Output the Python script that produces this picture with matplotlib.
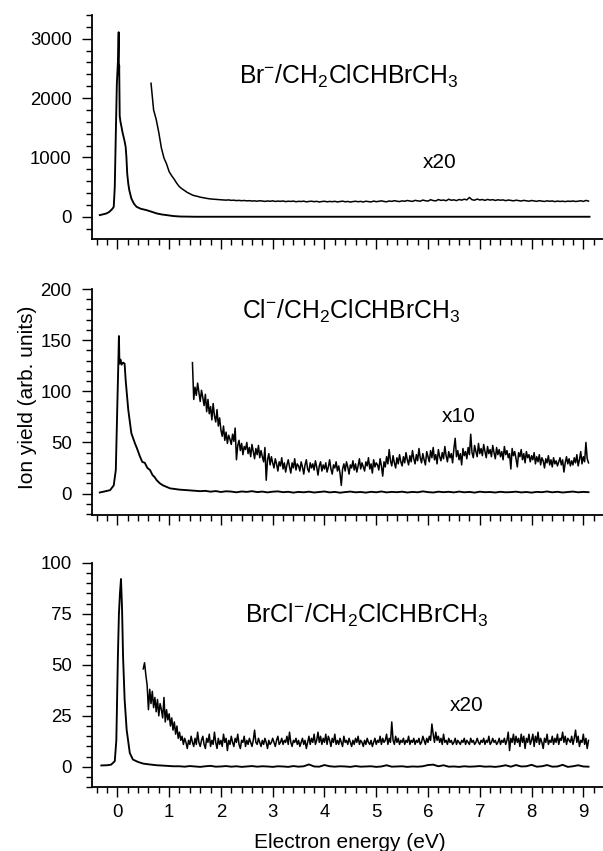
import numpy as np
import matplotlib
matplotlib.use("Agg")
import matplotlib.pyplot as plt
from matplotlib.ticker import MultipleLocator

plt.rcParams['font.family'] = ['Liberation Sans', 'DejaVu Sans']
plt.rcParams['mathtext.fontset'] = 'custom'
plt.rcParams['mathtext.rm'] = 'Liberation Sans'
plt.rcParams['mathtext.it'] = 'Liberation Sans'
plt.rcParams['mathtext.default'] = 'regular'

# ---------------- data ----------------
# Panel 1: Br-
br_x = [-0.34, -0.28, -0.21, -0.16, -0.12, -0.09, -0.07, -0.05, -0.03, -0.01, 0.015, 0.025, 0.03,
        0.035, 0.045, 0.06, 0.08, 0.10, 0.12, 0.14, 0.16, 0.175, 0.19, 0.21, 0.23, 0.27, 0.32,
        0.37, 0.45, 0.56, 0.66, 0.76, 0.86, 0.95, 1.08, 1.21, 1.5, 2.5, 4.0, 6.0, 8.0, 9.12]
br_y = [28, 40, 56, 80, 112, 140, 168, 505, 1400, 2240, 2690, 3110, 2400,
        2550, 1700, 1600, 1513, 1420, 1345, 1270, 1177, 1000, 729, 560, 448, 308, 220,
        168, 135, 112, 85, 56, 38, 28, 12, 4, 0, 0, 0, 0, 0, 0]

br20_start, br20_end = 0.65, 9.10
br20_y = [2250, 1800, 1640, 1420, 1160, 990, 890, 760,
          690, 630, 560, 505, 470, 440, 410, 388,
          366, 352, 343, 330, 322, 315, 306, 300,
          297, 293, 289, 286, 283, 280, 284, 276,
          279, 272, 276, 270, 274, 268, 271, 265,
          268, 262, 270, 264, 259, 266, 261, 268, 258, 264,
          260, 266, 255, 262, 258, 264, 253, 260, 257, 263,
          251, 258, 262, 254, 260, 249, 257, 261, 252, 258,
          254, 260, 250, 257, 263, 252, 258, 248, 256, 261,
          253, 259, 249, 262, 255, 250, 264, 254, 260, 268,
          258, 252, 266, 259, 271, 262, 256, 268, 261, 274,
          265, 259, 276, 268, 262, 281, 270, 264, 287, 273,
          267, 290, 276, 282, 270, 295, 278, 285, 272, 291,
          280, 296, 284, 325, 287, 279, 298, 283, 290, 276,
          292, 281, 288, 275, 286, 279, 284, 271, 282, 276,
          268, 279, 272, 265, 276, 269, 262, 274, 266, 260,
          271, 263, 258, 268, 261, 266, 255, 264, 258, 262,
          255, 263, 259, 266, 257, 262, 270, 258, 275, 264]

# Panel 2: Cl-
cl_x = [-0.34, -0.25, -0.14, -0.07, -0.03, 0.00, 0.017, 0.03, 0.04, 0.06, 0.08, 0.11, 0.14,
        0.16, 0.21, 0.27, 0.34, 0.38, 0.43, 0.48, 0.53, 0.58, 0.63, 0.68, 0.72, 0.76, 0.82,
        0.88, 0.95, 1.02, 1.10, 1.20, 1.34, 1.47, 1.60]
cl_y = [1, 2, 3.3, 8, 23, 88, 124, 154, 127, 131, 126, 128, 127,
        111, 82, 59, 49, 44, 37, 31, 30, 25, 23, 18, 16, 13, 10,
        8, 6.5, 5, 4.5, 3.8, 3.3, 2.8, 2.3]
cl_tail_start, cl_tail_end = 1.7, 9.1
cl_tail_y = [2.6, 1.8, 2.4, 1.5, 2.2, 1.9, 1.2, 2.0, 1.6, 2.3,
             1.4, 1.9, 1.1, 1.8, 2.1, 1.3, 1.7, 0.9, 1.6, 1.2,
             1.8, 1.0, 1.5, 2.0, 1.1, 1.6, 0.8, 1.4, 1.9, 1.2,
             1.5, 0.9, 1.7, 1.2, 2.0, 1.1, 1.6, 1.3, 1.8, 1.0,
             1.6, 1.2, 2.1, 1.4, 1.0, 1.8, 1.3, 1.7, 1.1, 1.9,
             1.2, 1.6, 0.9, 1.8, 1.3, 1.5, 1.0, 1.7, 1.2, 1.4,
             1.8, 1.1, 1.5, 0.9, 1.6, 1.3, 2.0, 1.2, 1.7, 1.0,
             1.5, 1.9, 1.2, 1.6, 1.3]

cl10_start, cl10_end = 1.45, 9.10
cl10_y = [128, 92, 104, 96, 108, 99, 90, 101, 94, 86, 97,
          80, 92, 78, 85, 72, 88, 76, 70, 82, 66, 74,
          62, 56, 66, 52, 60, 49, 57, 53, 48, 58, 51,
          64, 33, 47, 52, 42, 49, 38, 46, 43, 50,
          39, 45, 36, 48, 41, 34, 44, 38, 47, 35,
          42, 36, 31, 45, 13, 33, 39, 28, 36, 30,
          25, 34, 29, 22, 31, 27, 35, 24, 30, 21,
          28, 33, 26, 20, 30, 25, 34, 23, 29, 27,
          22, 31, 26, 19, 28, 33, 24, 21, 30, 25,
          29, 23, 32, 26, 18, 27, 31, 22, 28, 24,
          30, 21, 26, 33, 24, 19, 28, 25, 31, 22,
          27, 20, 8, 24, 29, 22, 31, 26, 19, 28,
          25, 32, 23, 29, 21, 27, 34, 24, 30, 26,
          22, 31, 27, 35, 24, 29, 20, 33, 26, 30,
          28, 23, 34, 27, 17, 31, 26, 36, 29, 43,
          32, 27, 37, 30, 25, 35, 29, 38, 31, 27,
          36, 30, 40, 33, 28, 37, 31, 42, 34, 29,
          38, 32, 44, 35, 30, 39, 33, 28, 41, 36,
          31, 42, 35, 45, 33, 38, 29, 43, 36, 32,
          40, 34, 46, 37, 31, 41, 35, 39, 30, 44,
          54, 36, 42, 33, 39, 28, 44, 37, 41, 34,
          45, 38, 58, 40, 35, 47, 41, 36, 49, 39,
          44, 37, 48, 41, 35, 46, 39, 43, 36, 47,
          40, 34, 45, 38, 43, 36, 41, 33, 46, 38,
          42, 35, 39, 24, 44, 37, 41, 34, 26, 40,
          36, 43, 33, 39, 30, 41, 35, 38, 31, 37,
          33, 40, 29, 36, 31, 38, 28, 35, 32, 25,
          34, 30, 37, 28, 33, 26, 35, 29, 32, 27,
          31, 35, 28, 33, 21, 30, 36, 29, 34, 27,
          32, 28, 35, 30, 38, 27, 33, 41, 29, 36,
          31, 50, 34, 30]

# Panel 3: BrCl-
brcl_x = [-0.31, -0.20, -0.12, -0.05, -0.02, 0.01, 0.03, 0.05, 0.07, 0.09, 0.11, 0.14, 0.18,
          0.24, 0.30, 0.40, 0.50, 0.62, 0.76, 0.90, 1.08]
brcl_y = [0.7, 0.8, 1.1, 2.8, 13, 54, 75, 85, 92, 78, 54, 33, 18,
          6.8, 3.6, 2.4, 1.6, 1.2, 0.8, 0.6, 0.3]
brcl_tail_start, brcl_tail_end = 1.2, 9.1
brcl_tail_y = [0.3, 0.1, 0.4, 0.2, 0.0, 0.3, 0.5, 0.1, 0.2, 0.4,
               0.1, 0.3, 0.0, 0.2, 0.4, 0.1, 0.3, 0.2, 0.0, 0.3,
               0.2, 0.0, 0.4, 0.1, 0.3, 1.2, 0.2, 0.1, 0.9, 0.3,
               0.1, 0.3, 0.2, 0.0, 0.4, 0.1, 0.2, 0.3, 0.0, 0.2,
               0.8, 0.1, 0.2, 0.3, 0.0, 0.2, 0.1, 0.3, 0.9, 1.1,
               0.3, 0.8, 0.1, 0.2, 0.0, 0.3, 0.1, 0.2, 0.4, 0.1,
               0.2, 0.0, 0.3, 0.8, 0.1, 0.9, 0.2, 0.3, 1.0, 0.1,
               0.3, 0.9, 0.1, 0.2, 1.0, 0.0, 0.3, 0.8, 0.2, 0.1]

brcl20_start, brcl20_end = 0.50, 9.10
brcl20_y = [48, 51, 45, 40, 28, 38, 31, 37, 29, 34,
            27, 33, 25, 31, 28, 24, 34, 22, 28, 23,
            26, 20, 24, 18, 22, 16, 20, 14, 17, 13,
            15, 11, 14, 12, 9, 13, 11, 15, 12, 10,
            14, 11, 17, 12, 10, 13, 15, 11, 9, 14,
            12, 16, 10, 13, 11, 17, 12, 9, 14, 11,
            13, 10, 16, 12, 14, 8, 13, 11, 15, 12,
            10, 14, 12, 16, 11, 9, 13, 12, 15, 10,
            13, 11, 14, 12, 10, 13, 18, 12, 11, 14,
            12, 10, 13, 11, 14, 12, 9, 13, 11, 12,
            14, 12, 10, 13, 15, 11, 12, 14, 11, 13,
            12, 15, 11, 17, 12, 10, 13, 12, 14, 11,
            13, 10, 12, 14, 11, 13, 9, 12, 15, 11,
            14, 12, 16, 11, 13, 17, 12, 15, 11, 14,
            12, 16, 11, 15, 13, 10, 14, 12, 16, 11,
            13, 11, 14, 12, 10, 15, 12, 13, 11, 14,
            12, 10, 13, 11, 14, 12, 15, 11, 13, 12,
            10, 13, 11, 14, 12, 11, 13, 10, 12, 14,
            11, 13, 12, 15, 11, 14, 12, 13, 16, 11,
            14, 12, 22, 13, 11, 15, 12, 14, 11, 13,
            12, 14, 11, 13, 12, 15, 11, 13, 12, 14,
            11, 13, 12, 14, 11, 12, 15, 13, 11, 14,
            12, 15, 13, 21, 16, 12, 17, 13, 15, 12,
            14, 11, 16, 12, 13, 11, 14, 12, 13, 11,
            12, 14, 11, 13, 12, 11, 13, 12, 14, 11,
            13, 12, 11, 14, 12, 13, 11, 12, 14, 12,
            11, 13, 12, 14, 11, 13, 12, 15, 11, 12,
            14, 12, 13, 11, 12, 14, 11, 13, 12, 14,
            11, 13, 17, 8, 14, 12, 16, 11, 15, 12,
            14, 10, 16, 12, 15, 9, 14, 12, 16, 11,
            13, 16, 10, 15, 12, 17, 11, 14, 12, 9,
            14, 12, 16, 11, 13, 12, 15, 11, 14, 12,
            16, 11, 14, 13, 17, 12, 15, 11, 14, 13,
            12, 15, 11, 14, 18, 12, 15, 10, 13, 12,
            16, 11, 14, 9, 13]

labels = [r'Br$^{-}$/CH$_2$ClCHBrCH$_3$',
          r'Cl$^{-}$/CH$_2$ClCHBrCH$_3$',
          r'BrCl$^{-}$/CH$_2$ClCHBrCH$_3$']
factors = ['x20', 'x10', 'x20']

# ---------------- figure ----------------
W, H = 603, 851
fig = plt.figure(figsize=(W / 100, H / 100), dpi=100)

left = 92 / W
width = 1.0 - left
rects = [(239.3, 15.0), (515.0, 289.0), (787.3, 562.7)]
ylims = [(-380, 3400), (-21, 200), (-10, 100)]
majors = [1000, 50, 25]
minors = [200, 10, 5]
xlim = (-0.49, 9.38)

lw_main = 1.35
lw_noise = 1.1

axes = []
for i, (b, t) in enumerate(rects):
    ax = fig.add_axes([left, 1 - b / H, width, (b - t) / H])
    ax.set_xlim(*xlim)
    ax.set_ylim(*ylims[i])
    for s in ['top', 'right']:
        ax.spines[s].set_visible(False)
    for s in ['left', 'bottom']:
        ax.spines[s].set_linewidth(1.3)
    ax.xaxis.set_major_locator(MultipleLocator(1))
    ax.xaxis.set_minor_locator(MultipleLocator(0.2))
    ax.yaxis.set_major_locator(MultipleLocator(majors[i]))
    ax.yaxis.set_minor_locator(MultipleLocator(minors[i]))
    ax.tick_params(which='major', direction='out', length=7.5, width=1.0,
                   labelsize=13.4, pad=4.5)
    ax.tick_params(which='minor', direction='out', length=4.0, width=1.0)
    ax.tick_params(axis='y', which='major', pad=7)
    if i < 2:
        ax.tick_params(axis='x', labelbottom=False)
    axes.append(ax)

# Panel 1
ax = axes[0]
ax.plot(br_x, br_y, color='black', lw=lw_main)
ax.plot(np.linspace(br20_start, br20_end, len(br20_y)), br20_y, color='black', lw=lw_noise)
ax.text(2.35, 2370, labels[0], fontsize=17.8, ha='left', va='center')
ax.text(6.22, 920, factors[0], fontsize=15, ha='center', va='center')

# Panel 2
ax = axes[1]
cl_full_x = list(cl_x) + list(np.linspace(cl_tail_start, cl_tail_end, len(cl_tail_y)))
cl_full_y = list(cl_y) + list(cl_tail_y)
ax.plot(cl_full_x, cl_full_y, color='black', lw=lw_main)
ax.plot(np.linspace(cl10_start, cl10_end, len(cl10_y)), cl10_y, color='black', lw=lw_noise)
ax.text(2.40, 178, labels[1], fontsize=17.8, ha='left', va='center')
ax.text(6.59, 75, factors[1], fontsize=15, ha='center', va='center')

# Panel 3
ax = axes[2]
brcl_full_x = list(brcl_x) + list(np.linspace(brcl_tail_start, brcl_tail_end, len(brcl_tail_y)))
brcl_full_y = list(brcl_y) + list(brcl_tail_y)
ax.plot(brcl_full_x, brcl_full_y, color='black', lw=lw_main)
ax.plot(np.linspace(brcl20_start, brcl20_end, len(brcl20_y)), brcl20_y, color='black', lw=lw_noise)
ax.text(2.46, 74, labels[2], fontsize=17.8, ha='left', va='center')
ax.text(6.75, 30, factors[2], fontsize=15, ha='center', va='center')

fig.text(28 / W, 1 - 397 / H, 'Ion yield (arb. units)', rotation=90,
         fontsize=15, ha='center', va='center')
fig.text(350 / W, 1 - 842 / H, 'Electron energy (eV)', fontsize=15,
         ha='center', va='center')

fig.savefig('out.png', dpi=100)
